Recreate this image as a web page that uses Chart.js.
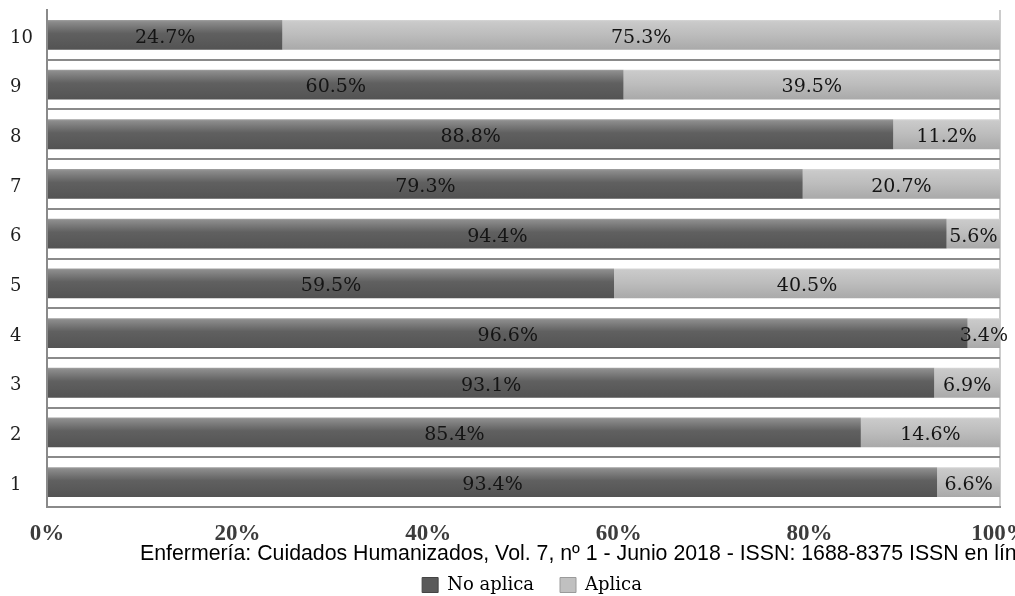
<!DOCTYPE html>
<html>
<head>
<meta charset="utf-8">
<script src="https://cdn.jsdelivr.net/npm/chart.js@4/dist/chart.umd.min.js"></script>
<style>
  html, body { margin: 0; padding: 0; background: #ffffff; }
  #wrap { width: 1015px; height: 596px; position: relative; }
</style>
</head>
<body>
<div id="wrap"><canvas id="c" width="1015" height="596"></canvas></div>
<script>
// Items 1..10 (bottom to top)
const categories = ['1', '2', '3', '4', '5', '6', '7', '8', '9', '10'];
const noAplica = [93.4, 85.4, 93.1, 96.6, 59.5, 94.4, 79.3, 88.8, 60.5, 24.7];
const aplica   = [6.6, 14.6, 6.9, 3.4, 40.5, 5.6, 20.7, 11.2, 39.5, 75.3];
const xTicks   = [0, 20, 40, 60, 80, 100];
const seriesNames = ['No aplica', 'Aplica'];
const footerText = 'Enfermería: Cuidados Humanizados, Vol. 7, nº 1 - Junio 2018 - ISSN: 1688-8375 ISSN en línea: 2393-6606';

const BAR_PCT = 0.6;
const SERIF = '"DejaVu Serif", "Liberation Serif", serif';

// Vertical shading for each bar, built from the bar's own band on the y scale
function shaded(stops, flat) {
  return (ctx) => {
    const chart = ctx.chart;
    const y = chart.scales && chart.scales.y;
    if (!chart.chartArea || !y || ctx.type !== 'data') return flat;
    const band = y.height / categories.length;
    const half = band * BAR_PCT / 2;
    const cy = y.getPixelForValue(ctx.dataIndex);
    const g = chart.ctx.createLinearGradient(0, cy - half, 0, cy + half);
    stops.forEach(([o, c]) => g.addColorStop(o, c));
    return g;
  };
}

const darkStops  = [[0, '#a2a2a2'], [0.06, '#8c8c8c'], [0.45, '#606060'], [1, '#535353']];
const lightStops = [[0, '#d6d6d6'], [0.06, '#cacaca'], [0.5, '#bcbcbc'], [1, '#a9a9a9']];
const legendFill = ['#5a5a5a', '#c0c0c0'];
const legendStroke = ['#444444', '#9a9a9a'];

// Percentage written in the middle of every segment
const segmentLabels = {
  id: 'segmentLabels',
  afterDatasetsDraw(chart) {
    const ctx = chart.ctx;
    ctx.save();
    ctx.font = '19px ' + SERIF;
    ctx.fillStyle = '#141414';
    ctx.textAlign = 'center';
    ctx.textBaseline = 'middle';
    chart.data.datasets.forEach((ds, di) => {
      const meta = chart.getDatasetMeta(di);
      meta.data.forEach((bar, i) => {
        const v = ds.data[i];
        const p = bar.getProps(['x', 'y', 'base'], true);
        const cx = (p.x + p.base) / 2;
        ctx.fillText(v.toFixed(1) + '%', cx, p.y + 3);
      });
    });
    ctx.restore();
  }
};

// Legend row sits a little lower and right of the default centre
const legendPlace = {
  id: 'legendPlace',
  afterLayout(chart) {
    const lg = chart.legend;
    if (!lg) return;
    lg.left += 27; lg.right += 27;
    lg.top += 8; lg.bottom += 8;
  }
};

// Journal line printed across the lower part of the figure
const footer = {
  id: 'footer',
  afterDraw(chart) {
    const ctx = chart.ctx;
    ctx.save();
    ctx.font = '21.3px "Liberation Sans", Arial, sans-serif';
    ctx.fillStyle = '#000000';
    ctx.textAlign = 'left';
    ctx.textBaseline = 'alphabetic';
    ctx.fillText(footerText, 140, 560);
    ctx.restore();
  }
};

new Chart(document.getElementById('c'), {
  type: 'bar',
  data: {
    labels: categories,
    datasets: [
      {
        label: seriesNames[0],
        data: noAplica,
        backgroundColor: shaded(darkStops, '#5a5a5a'),
        borderWidth: 0,
        barPercentage: BAR_PCT,
        categoryPercentage: 1
      },
      {
        label: seriesNames[1],
        data: aplica,
        backgroundColor: shaded(lightStops, '#c0c0c0'),
        borderWidth: 0,
        barPercentage: BAR_PCT,
        categoryPercentage: 1
      }
    ]
  },
  options: {
    indexAxis: 'y',
    responsive: false,
    animation: false,
    layout: { padding: { left: 10, top: 10, right: 15, bottom: 0 } },
    scales: {
      x: {
        stacked: true,
        min: 0,
        max: 100,
        afterBuildTicks: (s) => { s.ticks = xTicks.map(v => ({ value: v })); },
        afterFit: (s) => { s.paddingLeft = 0; s.paddingRight = 0; s.height = 35; },
        ticks: {
          callback: (v) => v + '%',
          padding: 13,
          maxRotation: 0,
          autoSkip: false,
          color: '#3c3c3c',
          font: { family: '"Liberation Serif", "Times New Roman", serif', size: 23, weight: 'bold' }
        },
        grid: {
          drawTicks: false,
          color: (c) => (c.tick && c.tick.value === 100) ? '#cccccc' : 'rgba(0,0,0,0)',
          lineWidth: 2
        },
        border: { display: true, color: '#8a8a8a', width: 2 }
      },
      y: {
        stacked: true,
        reverse: true,
        afterFit: (s) => { s.width = 37; s.paddingTop = 0; s.paddingBottom = 0; },
        ticks: {
          crossAlign: 'far',
          padding: 10,
          labelOffset: 3,
          color: '#1e1e1e',
          font: { family: SERIF, size: 18 }
        },
        grid: {
          offset: true,
          drawTicks: false,
          color: (c) => c.type === 'tick' ? '#8a8a8a' : 'rgba(0,0,0,0)',
          lineWidth: 2
        },
        border: { display: true, color: '#8a8a8a', width: 2 }
      }
    },
    plugins: {
      tooltip: { enabled: false },
      legend: {
        position: 'bottom',
        labels: {
          boxWidth: 16,
          boxHeight: 15,
          padding: 26,
          color: '#111111',
          font: { family: SERIF, size: 18 },
          generateLabels: (chart) => chart.data.datasets.map((ds, i) => ({
            text: ds.label,
            fillStyle: legendFill[i],
            strokeStyle: legendStroke[i],
            lineWidth: 1,
            hidden: false,
            datasetIndex: i
          }))
        }
      }
    }
  },
  plugins: [segmentLabels, legendPlace, footer]
});
</script>
</body>
</html>
